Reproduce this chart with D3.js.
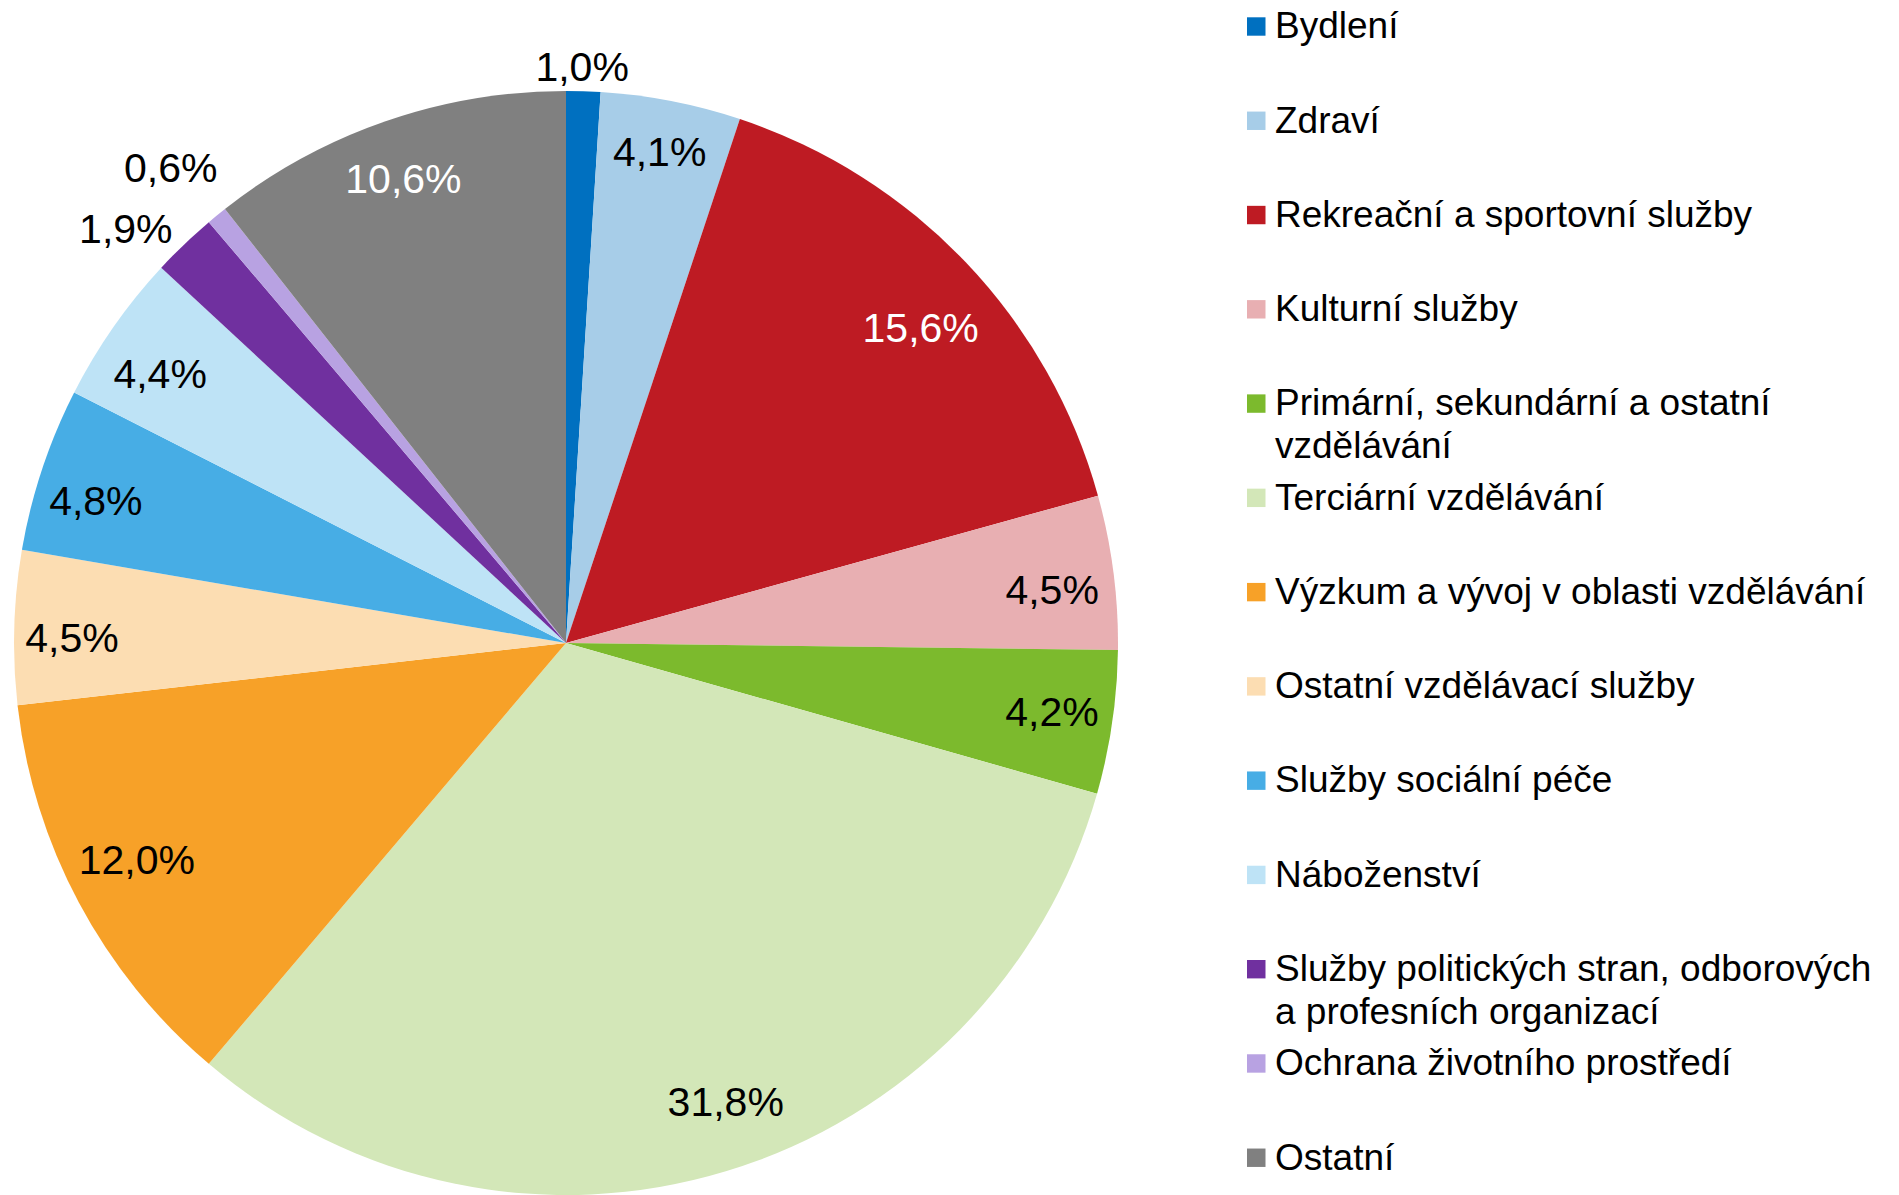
<!DOCTYPE html>
<html>
<head>
<meta charset="utf-8">
<script src="https://cdnjs.cloudflare.com/ajax/libs/d3/7.8.5/d3.min.js"></script>
<style>
  html, body { margin: 0; padding: 0; background: #ffffff; }
  svg { display: block; }
  text { font-family: "Liberation Sans", Arial, sans-serif; }
</style>
</head>
<body>
<svg id="chart" width="1899" height="1195"></svg>
<script>
// ---- data ----
const categories = [
  "Bydlení",
  "Zdraví",
  "Rekreační a sportovní služby",
  "Kulturní služby",
  "Primární, sekundární a ostatní vzdělávání",
  "Terciární vzdělávání",
  "Výzkum a vývoj v oblasti vzdělávání",
  "Ostatní vzdělávací služby",
  "Služby sociální péče",
  "Náboženství",
  "Služby politických stran, odborových a profesních organizací",
  "Ochrana životního prostředí",
  "Ostatní"
];
const values = [1.0, 4.1, 15.6, 4.5, 4.2, 31.8, 12.0, 4.5, 4.8, 4.4, 1.9, 0.6, 10.6];
const colors = ["#0070C0", "#A7CDE8", "#BE1B23", "#E8AFB2", "#7CBA2D", "#D3E7B8",
                "#F7A128", "#FCDDB2", "#47ADE5", "#BEE3F6", "#70309F", "#B8A2E2", "#808080"];
const labelColors = ["#000", "#000", "#fff", "#000", "#000", "#000",
                     "#000", "#000", "#000", "#000", "#000", "#000", "#fff"];

// ---- layout (label placement: radius factor, angle nudge in degrees) ----
const labelPlacement = [[1.045, -0.2], [0.907, -0.2], [0.86, 1.9], [0.886, 1.1], [0.889, -0.3],
                        [0.879, -2.3], [0.871, 1.3], [0.895, -1.0], [0.89, -1.5], [0.883, -1.3],
                        [1.095, -3.0], [1.12, -0.5], [0.892, -0.2]];

const svg = d3.select("#chart");
const cx = 566, cy = 643, R = 552;

const pie = d3.pie().sort(null).value(d => d);
const arcs = pie(values);
const arc = d3.arc().innerRadius(0).outerRadius(R);

const g = svg.append("g").attr("transform", `translate(${cx},${cy})`);
g.selectAll("path.slice")
  .data(arcs)
  .join("path")
  .attr("class", "slice")
  .attr("d", arc)
  .attr("fill", (d, i) => colors[i]);

const fmt = v => d3.format(".1f")(v).replace(".", ",") + "%";

const labelAngle = (d, i) => (d.startAngle + d.endAngle) / 2 + labelPlacement[i][1] * Math.PI / 180;

g.selectAll("text.lbl")
  .data(arcs)
  .join("text")
  .attr("class", "lbl")
  .attr("x", (d, i) => Math.sin(labelAngle(d, i)) * R * labelPlacement[i][0])
  .attr("y", (d, i) => -Math.cos(labelAngle(d, i)) * R * labelPlacement[i][0])
  .attr("dy", "0.355em")
  .attr("text-anchor", "middle")
  .attr("font-size", 41)
  .attr("fill", (d, i) => labelColors[i])
  .text(d => fmt(d.data));

// ---- legend ----
const legX = 1247, legTextX = 1275, legTop = 38.3, legStep = 94.27, lineGap = 43;
const legFont = 37, wrapWidth = 615;

const leg = svg.append("g");
categories.forEach((name, i) => {
  const by = legTop + i * legStep;
  leg.append("rect")
    .attr("x", legX).attr("y", by - 21)
    .attr("width", 18.5).attr("height", 18.4)
    .attr("fill", colors[i]);
  const tg = leg.append("g").attr("transform", `translate(${legTextX},${by})`);
  const words = name.split(" ");
  const lines = [];
  let cur = "";
  const probe = tg.append("text").attr("font-size", legFont);
  words.forEach(w => {
    const test = cur ? cur + " " + w : w;
    probe.text(test);
    if (probe.node().getComputedTextLength() > wrapWidth && cur) {
      lines.push(cur);
      cur = w;
    } else {
      cur = test;
    }
  });
  lines.push(cur);
  probe.remove();
  lines.forEach((ln, k) => {
    tg.append("text")
      .attr("x", 0).attr("y", k * lineGap)
      .attr("font-size", legFont)
      .attr("fill", "#000")
      .text(ln);
  });
});
</script>
</body>
</html>
